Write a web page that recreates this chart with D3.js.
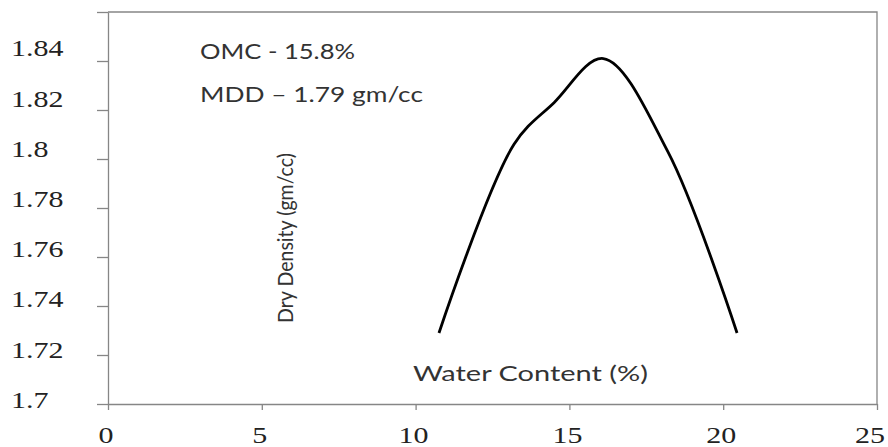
<!DOCTYPE html>
<html>
<head>
<meta charset="utf-8">
<script src="https://cdn.jsdelivr.net/npm/d3@7"></script>
<style>
  body { margin: 0; background: #fff; }
</style>
</head>
<body>
<div id="chart"></div>
<script>
// curve values
const waterContent = [10.76, 13.2, 14.5, 16.1, 18.2, 20.45];
const dryDensity   = [1.729, 1.806, 1.823, 1.841, 1.803, 1.729];

const xTicks = [0, 5, 10, 15, 20, 25];
const yTicks = [1.7, 1.72, 1.74, 1.76, 1.78, 1.8, 1.82, 1.84, 1.86];
const yLabels = [1.7, 1.72, 1.74, 1.76, 1.78, 1.8, 1.82, 1.84];

const notes = ['OMC - 15.8%', 'MDD \u2013 1.79 gm/cc'];

const dims = {width: 888, height: 447};
const axisColor = '#868686';
const serif = "'Liberation Serif', 'DejaVu Serif', serif";

const svg = d3.select('#chart')
    .append('svg')
    .attr('width', dims.width)
    .attr('height', dims.height);

const x = d3.scaleLinear().domain([0, 25]).range([108, 877]);
const y = d3.scaleLinear().domain([1.7, 1.86]).range([404, 12]);
// labels sit on a slightly different spacing than the tick marks
const yLab = d3.scaleLinear().domain([1.7, 1.84]).range([400, 48.5]);

// frame: top + right
svg.append('path')
    .attr('d', `M${x(0)},${y(1.86)}H${x(25)}V${y(1.7)}`)
    .attr('fill', 'none')
    .attr('stroke', axisColor)
    .attr('stroke-width', 1.3);

const xAxis = svg.append('g')
    .attr('transform', `translate(0, ${y(1.7)})`)
    .call(d3.axisBottom(x).tickValues(xTicks).tickSize(6).tickSizeOuter(0).tickFormat(''));

const yAxis = svg.append('g')
    .attr('transform', `translate(${x(0)}, 0)`)
    .call(d3.axisLeft(y).tickValues(yTicks).tickSize(11).tickSizeOuter(0).tickFormat(''));

[xAxis, yAxis].forEach(g => {
    g.selectAll('path, line').attr('stroke', axisColor).attr('stroke-width', 1.3);
});

// tick labels, serif, squashed vertically like the source
svg.append('g').selectAll('text')
    .data(yLabels)
    .enter()
    .append('text')
        .style('font-family', serif)
        .style('font-size', '30px')
        .attr('fill', '#222')
        .attr('transform', d => `translate(11, ${yLab(d) + 7.8}) scale(1, 0.77)`)
        .text(d => d);

svg.append('g').selectAll('text')
    .data(xTicks)
    .enter()
    .append('text')
        .style('font-family', serif)
        .style('font-size', '30px')
        .attr('fill', '#222')
        .attr('transform', d => `translate(${Math.min(x(d) - 2, 870)}, 443) scale(1, 0.77)`)
        .attr('text-anchor', 'middle')
        .text(d => d);

// curve
const line = d3.line()
    .x(d => x(d[0]))
    .y(d => y(d[1]))
    .curve(d3.curveCatmullRom.alpha(0.5));

svg.append('path')
    .datum(waterContent.map((w, i) => [w, dryDensity[i]]))
    .attr('d', line)
    .attr('fill', 'none')
    .attr('stroke', '#000')
    .attr('stroke-width', 2.8);

// annotations
const note = (txt, tx, ty, len, size, rot) => svg.append('text')
    .style('font-family', 'Lato, sans-serif')
    .attr('fill', '#333')
    .attr('transform', `translate(${tx}, ${ty})` + (rot ? ' rotate(-90)' : ''))
    .attr('text-anchor', rot ? 'middle' : 'start')
    .attr('font-size', size)
    .attr('textLength', len)
    .attr('lengthAdjust', 'spacingAndGlyphs')
    .text(txt);

note(notes[0], 200, 59, 155, 21);
note(notes[1], 200, 102, 223, 21);
note('Water Content (%)', 413, 381, 235, 22);
note('Dry Density (gm/cc)', 293, 238, 170, 22, true);
</script>
</body>
</html>
